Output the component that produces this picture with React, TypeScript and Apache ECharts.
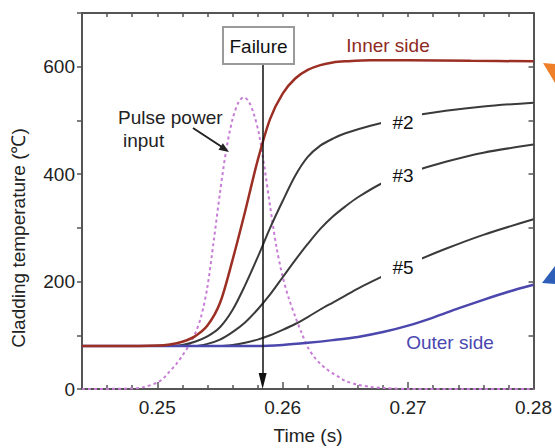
import React, { useEffect, useRef } from 'react';
import * as echarts from 'echarts';

const FONT = '"Liberation Sans", Arial, Helvetica, sans-serif';

// Tick values
const xMajorTicks = [0.25, 0.26, 0.27, 0.28];
const xMinorTicks = [0.246, 0.248, 0.252, 0.254, 0.256, 0.258, 0.262, 0.264, 0.266, 0.268, 0.272, 0.274, 0.276, 0.278];
const xAllTicks = [0.246, 0.248, 0.25, 0.252, 0.254, 0.256, 0.258, 0.26, 0.262, 0.264, 0.266, 0.268, 0.27, 0.272, 0.274, 0.276, 0.278];

// Inner side
const innerTime = [0.244, 0.247, 0.25, 0.251, 0.252, 0.253, 0.254, 0.255, 0.256, 0.257, 0.258, 0.259, 0.26, 0.261, 0.262, 0.263, 0.264, 0.265, 0.267, 0.27, 0.275, 0.28];
const innerTemp = [80, 80, 81, 83, 88, 98, 118, 160, 240, 330, 425, 503, 550, 578, 594, 603, 608, 610, 612, 612, 611, 610];

// #2
const time2 = [0.244, 0.251, 0.252, 0.253, 0.254, 0.255, 0.256, 0.257, 0.258, 0.259, 0.26, 0.261, 0.262, 0.263, 0.264, 0.265, 0.267, 0.27, 0.273, 0.276, 0.28];
const temp2 = [80, 80, 82, 88, 98, 115, 147, 193, 245, 300, 350, 397, 432, 453, 466, 476, 490, 507, 518, 526, 533];

// #3
const time3 = [0.244, 0.253, 0.254, 0.255, 0.256, 0.257, 0.258, 0.259, 0.26, 0.261, 0.262, 0.263, 0.264, 0.265, 0.266, 0.268, 0.27, 0.273, 0.276, 0.28];
const temp3 = [80, 80, 84, 92, 106, 124, 148, 176, 208, 240, 270, 298, 321, 340, 357, 384, 402, 423, 440, 455];

// #5
const time5 = [0.244, 0.255, 0.256, 0.257, 0.258, 0.259, 0.26, 0.261, 0.262, 0.263, 0.264, 0.265, 0.266, 0.268, 0.27, 0.273, 0.276, 0.28];
const temp5 = [80, 80, 82, 86, 92, 100, 110, 121, 134, 148, 161, 174, 187, 210, 232, 261, 287, 316];

// Outer side
const outerTime = [0.244, 0.258, 0.26, 0.262, 0.264, 0.266, 0.268, 0.27, 0.272, 0.274, 0.276, 0.278, 0.28];
const outerTemp = [80, 80, 82, 86, 91, 97, 106, 118, 133, 150, 166, 181, 194];

// Pulse power input
const pulseTime = [0.244, 0.248, 0.249, 0.25, 0.2505, 0.251, 0.2515, 0.252, 0.2525, 0.253, 0.2535, 0.254, 0.2545, 0.255, 0.2555, 0.256, 0.2565, 0.2569, 0.2573, 0.2577, 0.2581, 0.2585, 0.259, 0.2595, 0.26, 0.2605, 0.261, 0.2615, 0.262, 0.2625, 0.263, 0.2635, 0.264, 0.2645, 0.265, 0.266, 0.267, 0.268, 0.27, 0.28];
const pulseValue = [0, 1, 4, 12, 20, 33, 46, 62, 80, 102, 135, 190, 275, 365, 445, 502, 535, 543, 535, 512, 476, 420, 340, 265, 209, 168, 135, 105, 78, 60, 47, 37, 29, 22, 15, 8, 4, 2, 0, 0];

// Failure time
const failureTime = 0.2584;
const failureTop = 605;

const zip = (xs: number[], ys: number[]) => xs.map((x, i) => [x, ys[i]]);

const AXIS_COLOR = '#555';

export default function App() {
  const ref = useRef<HTMLDivElement>(null);
  useEffect(() => {
    const chart = echarts.init(ref.current as HTMLDivElement, null, { renderer: 'svg' });
    const lineCommon = { type: 'line', showSymbol: false, smooth: 0.3, silent: true, xAxisIndex: 0, yAxisIndex: 0 };
    const option: any = {
      animation: false,
      backgroundColor: '#fff',
      grid: { left: 82, right: 21, top: 13, bottom: 59, containLabel: false },
      xAxis: [
        {
          type: 'value', min: 0.244, max: 0.28, position: 'bottom',
          axisLine: { show: true, lineStyle: { color: AXIS_COLOR, width: 2 } },
          axisTick: { show: true, inside: true, length: 7, customValues: xMajorTicks, lineStyle: { color: AXIS_COLOR, width: 1.5 } },
          axisLabel: { customValues: xMajorTicks, formatter: (v: number) => v.toFixed(2), margin: 9, fontSize: 19, fontFamily: FONT, color: '#222' },
          splitLine: { show: false },
        },
        {
          type: 'value', min: 0.244, max: 0.28, position: 'bottom', offset: 0,
          axisLine: { show: false },
          axisTick: { show: true, inside: true, length: 4, customValues: xMinorTicks, lineStyle: { color: AXIS_COLOR, width: 1.5 } },
          axisLabel: { show: false },
          splitLine: { show: false },
        },
        {
          type: 'value', min: 0.244, max: 0.28, position: 'top',
          axisLine: { show: true, lineStyle: { color: AXIS_COLOR, width: 2 } },
          axisTick: { show: true, inside: true, length: 4, customValues: xAllTicks, lineStyle: { color: AXIS_COLOR, width: 1.5 } },
          axisLabel: { show: false },
          splitLine: { show: false },
        },
      ],
      yAxis: [
        {
          type: 'value', min: 0, max: 700, interval: 100, position: 'left',
          axisLine: { show: true, lineStyle: { color: AXIS_COLOR, width: 2 } },
          axisTick: { show: true, inside: false, length: 5, lineStyle: { color: AXIS_COLOR, width: 1.5 } },
          axisLabel: { formatter: (v: number) => (v % 200 === 0 ? String(v) : ''), margin: 7, fontSize: 19, fontFamily: FONT, color: '#222' },
          splitLine: { show: false },
        },
        {
          type: 'value', min: 0, max: 700, interval: 100, position: 'right',
          axisLine: { show: true, lineStyle: { color: AXIS_COLOR, width: 2 } },
          axisTick: { show: true, inside: true, length: 5, lineStyle: { color: AXIS_COLOR, width: 1.5 } },
          axisLabel: { show: false },
          splitLine: { show: false },
        },
      ],
      series: [
        { ...lineCommon, name: 'Pulse', data: zip(pulseTime, pulseValue), lineStyle: { color: '#c77dd6', width: 2, type: [3, 3] } },
        { ...lineCommon, name: '#5', data: zip(time5, temp5), lineStyle: { color: '#3a3a3a', width: 2 } },
        { ...lineCommon, name: '#3', data: zip(time3, temp3), lineStyle: { color: '#3a3a3a', width: 2 } },
        { ...lineCommon, name: '#2', data: zip(time2, temp2), lineStyle: { color: '#3a3a3a', width: 2 } },
        {
          ...lineCommon, name: 'Outer side', data: zip(outerTime, outerTemp), lineStyle: { color: '#4b47ad', width: 2.5 },
        },
        {
          ...lineCommon, name: 'Inner side', data: zip(innerTime, innerTemp), lineStyle: { color: '#9c2f24', width: 2.5 },
          markLine: {
            silent: true,
            symbol: ['none', 'triangle'],
            symbolSize: [8, 16],
            label: { show: false },
            lineStyle: { color: '#111', width: 1.5, type: 'solid' },
            data: [[{ coord: [failureTime, failureTop] }, { coord: [failureTime, 15] }]],
          },
        },
      ],
      graphic: [
        { type: 'text', x: 18, y: 238, rotation: Math.PI / 2, style: { text: 'Cladding temperature (℃)', font: `19px ${FONT}`, fill: '#222', align: 'center', verticalAlign: 'middle' } },
        { type: 'text', x: 308, y: 435, style: { text: 'Time (s)', font: `19px ${FONT}`, fill: '#222', align: 'center', verticalAlign: 'middle' } },
        { type: 'rect', z: 100, shape: { x: 223, y: 27, width: 71, height: 37 }, style: { fill: '#fff', stroke: '#9a9a9a', lineWidth: 2 } },
        { type: 'text', z: 101, x: 258.5, y: 46, style: { text: 'Failure', font: `19px ${FONT}`, fill: '#111', align: 'center', verticalAlign: 'middle' } },
        { type: 'text', z: 101, x: 388, y: 45, style: { text: 'Inner side', font: `19px ${FONT}`, fill: '#8f2a22', align: 'center', verticalAlign: 'middle' } },
        { type: 'text', z: 101, x: 450, y: 342, style: { text: 'Outer side', font: `19px ${FONT}`, fill: '#4a47b0', align: 'center', verticalAlign: 'middle' } },
        { type: 'rect', z: 100, shape: { x: 381, y: 109, width: 41, height: 27 }, style: { fill: '#fff' } },
        { type: 'text', z: 101, x: 403, y: 122, style: { text: '#2', font: `19px ${FONT}`, fill: '#111', align: 'center', verticalAlign: 'middle' } },
        { type: 'rect', z: 100, shape: { x: 381, y: 162, width: 41, height: 27 }, style: { fill: '#fff' } },
        { type: 'text', z: 101, x: 403, y: 175, style: { text: '#3', font: `19px ${FONT}`, fill: '#111', align: 'center', verticalAlign: 'middle' } },
        { type: 'rect', z: 100, shape: { x: 381, y: 254, width: 41, height: 27 }, style: { fill: '#fff' } },
        { type: 'text', z: 101, x: 403, y: 267, style: { text: '#5', font: `19px ${FONT}`, fill: '#111', align: 'center', verticalAlign: 'middle' } },
        { type: 'text', z: 101, x: 118, y: 117, style: { text: 'Pulse power', font: `19px ${FONT}`, fill: '#222', align: 'left', verticalAlign: 'middle' } },
        { type: 'text', z: 101, x: 123, y: 140, style: { text: 'input', font: `19px ${FONT}`, fill: '#222', align: 'left', verticalAlign: 'middle' } },
        { type: 'line', z: 101, shape: { x1: 193, y1: 128, x2: 222, y2: 147 }, style: { stroke: '#222', lineWidth: 2 } },
        { type: 'polygon', z: 101, shape: { points: [[229, 152], [218.5, 149.8], [222.9, 143.2]] }, style: { fill: '#222' } },
        { type: 'polygon', z: 101, shape: { points: [[543, 63], [555, 64], [555, 83]] }, style: { fill: '#f07f2a' } },
        { type: 'polygon', z: 101, shape: { points: [[542, 283], [555, 266], [555, 284]] }, style: { fill: '#2e5fb8' } },
      ],
    };
    chart.setOption(option);
    return () => chart.dispose();
  }, []);
  return <div ref={ref} style={{ position: 'fixed', left: 0, top: 0, width: 555, height: 448, background: '#fff' }} />;
}
